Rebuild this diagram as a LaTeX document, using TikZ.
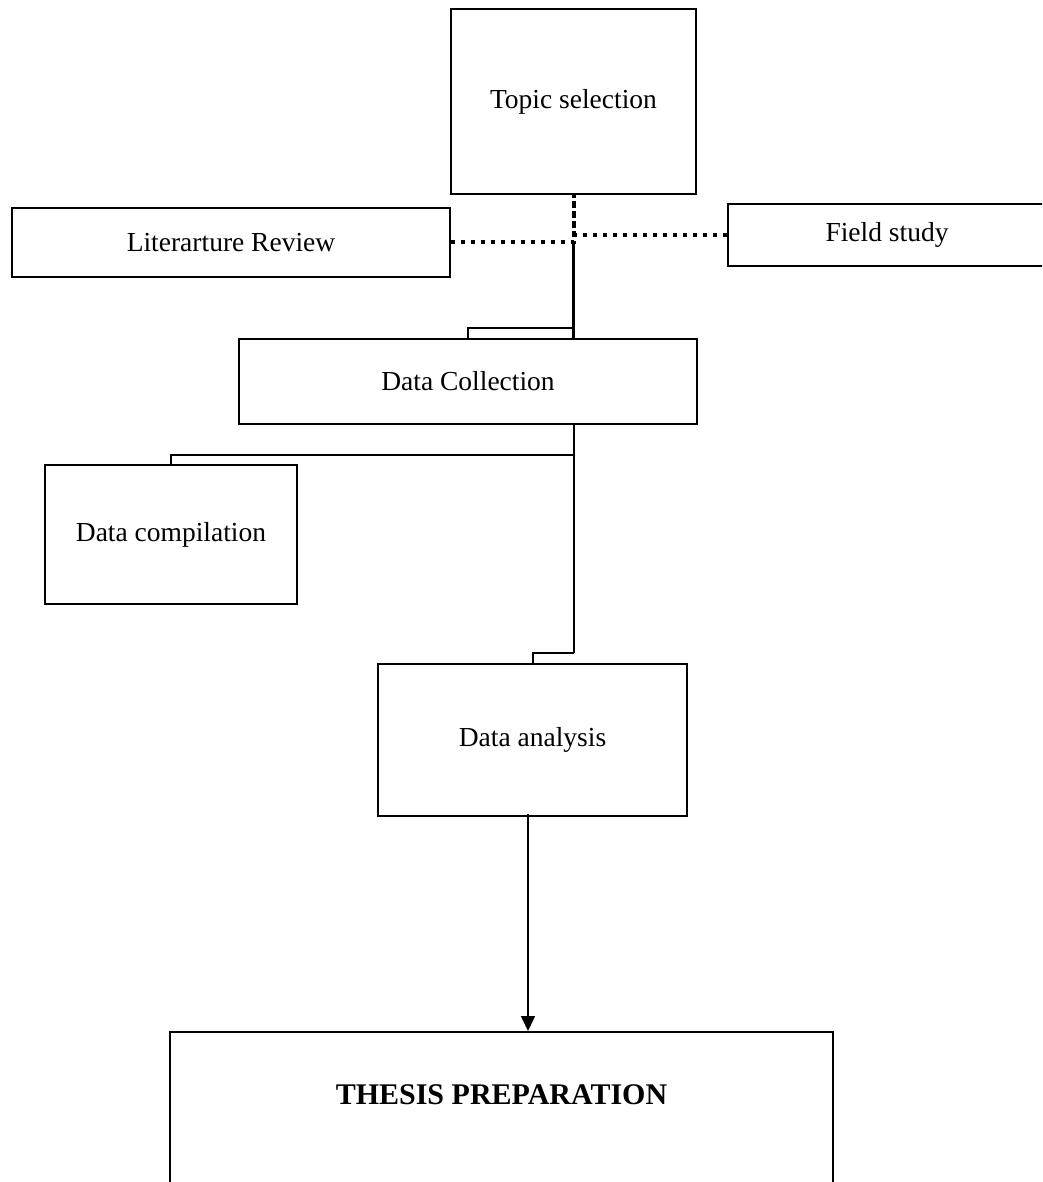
\documentclass[tikz,border=0pt]{standalone}
\usepackage{fontspec}
\setmainfont{Liberation Serif}
\usetikzlibrary{arrows.meta}
\begin{document}
\begin{tikzpicture}[x=1pt,y=-1pt,
  box/.style={draw, line width=2pt, rectangle, inner sep=0pt, font=\fontsize{27.5}{32}\selectfont},
  link/.style={line width=2pt},
  dots/.style={line width=4pt, dash pattern=on 4pt off 6pt}]
\useasboundingbox (0,0) rectangle (1042,1182);
\clip (0,0) rectangle (1042,1182);

\node[box, minimum width=245pt, minimum height=185pt] (topic) at (573.5,101.5) {Topic selection};
\node[box, minimum width=438pt, minimum height=69pt] (lit) at (231,242.5) {Literarture Review};
\node[box, minimum width=318pt, minimum height=62pt] (field) at (887,235) {Field study};
\node[box, minimum width=458pt, minimum height=85pt] (coll) at (468,381) {Data Collection};
\node[box, minimum width=252pt, minimum height=139pt] (comp) at (171,534.5) {Data compilation};
\node[box, minimum width=309pt, minimum height=152pt] (anal) at (532.5,740) {Data analysis};
\node[box, minimum width=663pt, minimum height=168pt] (thesis) at (501.5,1116) {};
\node[font=\fontsize{30}{36}\selectfont\bfseries] (thesistext) at (501.5,1095) {THESIS PREPARATION};

\coordinate (e1) at (573.5,328);
\coordinate (b1) at (573.5,455);
\coordinate (b2) at (573.5,653);

\draw[dots] (lit.east) -- (lit.east -| topic.south) -- (topic.south);
\draw[dots] (field.west) -- (field.west -| topic.south) -- (topic.south);
\draw[link, line width=2.6pt] (lit.east -| topic.south) -- (topic.south |- coll.north);
\draw[link] (e1) -| (coll.north);
\draw[link] (topic.south |- coll.south) -- (b2);
\draw[link] (b1) -| (comp.north);
\draw[link] (b2) -| (anal.north);
\draw[line width=1.5pt, -{Triangle[length=15pt,width=14pt]}] ([xshift=-4.5pt,yshift=3pt]anal.south) -- ([xshift=-4.5pt]anal.south |- thesis.north);
\end{tikzpicture}
\end{document}
